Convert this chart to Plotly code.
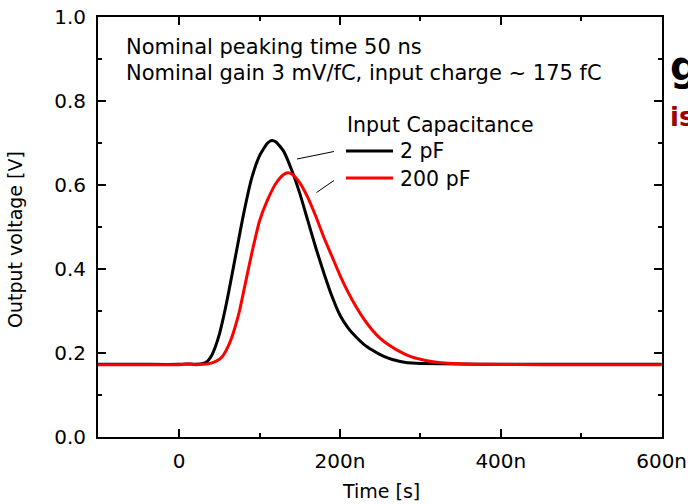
import plotly.graph_objects as go

# time in ns
t_black = [-101, -50, 0, 10, 20, 30, 35, 40, 45, 50, 55, 60, 70, 80, 90, 100, 110, 115, 120,
           130, 140, 150, 160, 170, 180, 190, 200, 210, 220, 230, 240, 250, 260, 270, 280,
           290, 300, 350, 400, 500, 600]
v_black = [0.173, 0.173, 0.173, 0.174, 0.173, 0.175, 0.18, 0.193, 0.215, 0.245, 0.285, 0.33,
           0.43, 0.53, 0.615, 0.67, 0.70, 0.706, 0.703, 0.68, 0.635, 0.58, 0.515, 0.45, 0.39,
           0.335, 0.29, 0.26, 0.238, 0.22, 0.207, 0.196, 0.188, 0.182, 0.178, 0.176, 0.175,
           0.174, 0.173, 0.173, 0.173]

t_red = [-101, -50, 0, 10, 20, 30, 40, 50, 55, 60, 65, 70, 75, 80, 90, 100, 110, 120, 130,
         135, 140, 150, 160, 170, 180, 190, 200, 210, 220, 230, 240, 250, 260, 270, 280, 290,
         300, 310, 320, 340, 380, 450, 600]
v_red = [0.172, 0.172, 0.172, 0.174, 0.172, 0.173, 0.176, 0.185, 0.195, 0.212, 0.235, 0.265,
         0.30, 0.345, 0.435, 0.515, 0.565, 0.603, 0.625, 0.629, 0.626, 0.605, 0.57, 0.525,
         0.475, 0.43, 0.385, 0.345, 0.31, 0.28, 0.255, 0.235, 0.22, 0.208, 0.198, 0.19,
         0.185, 0.181, 0.178, 0.175, 0.173, 0.172, 0.172]

x_tickvals = [0, 200, 400, 600]
x_ticktext = ["0", "200n", "400n", "600n"]
y_tickvals = [0.0, 0.2, 0.4, 0.6, 0.8, 1.0]
y_ticktext = ["0.0", "0.2", "0.4", "0.6", "0.8", "1.0"]

FONT = "DejaVu Sans, Arial, sans-serif"

L, R, T, B = 98, 662, 17, 437


def px(x):
    return (x - L) / (R - L)


def py(y):
    return (B - y) / (B - T)


fig = go.Figure()
fig.add_trace(go.Scatter(x=t_black, y=v_black, mode="lines", name="2 pF",
                         line=dict(color="black", width=3, shape="spline", smoothing=0.6)))
fig.add_trace(go.Scatter(x=t_red, y=v_red, mode="lines", name="200 pF",
                         line=dict(color="#ff0000", width=3, shape="spline", smoothing=0.6)))

fig.update_layout(
    width=688, height=504,
    margin=dict(l=L, r=688 - R, t=T, b=504 - B, pad=0, autoexpand=False),
    paper_bgcolor="white", plot_bgcolor="white",
    showlegend=False,
    font=dict(family=FONT, size=20, color="black"),
)

fig.update_xaxes(
    range=[-101, 600.5], tickvals=x_tickvals, ticktext=x_ticktext,
    showline=True, linecolor="black", linewidth=2, mirror="ticks",
    ticks="inside", ticklen=8, tickwidth=1.5, tickcolor="black",
    showgrid=False, zeroline=False, ticklabelstandoff=5, automargin=False,
    tickfont=dict(size=20, family=FONT),
    minor=dict(ticks="inside", ticklen=4, tickwidth=1.5, tickcolor="black",
               tickvals=[-100, 100, 300, 500], showgrid=False),
)
fig.update_yaxes(
    range=[0, 1], tickvals=y_tickvals, ticktext=y_ticktext,
    showline=True, linecolor="black", linewidth=2, mirror="ticks",
    ticks="inside", ticklen=8, tickwidth=1.5, tickcolor="black",
    showgrid=False, zeroline=False, ticklabelstandoff=6, automargin=False,
    tickfont=dict(size=20, family=FONT),
    minor=dict(ticks="inside", ticklen=4, tickwidth=1.5, tickcolor="black",
               tickvals=[0.1, 0.3, 0.5, 0.7, 0.9], showgrid=False),
)

# Axis titles
fig.add_annotation(xref="paper", yref="paper", x=px(381), y=py(491), xanchor="center",
                   yanchor="middle", showarrow=False, text="Time [s]",
                   font=dict(size=19, family=FONT))
fig.add_annotation(xref="paper", yref="paper", x=px(15), y=py(240), xanchor="center",
                   yanchor="middle", showarrow=False, text="Output voltage [V]", textangle=-90,
                   font=dict(size=19, family=FONT))

# Text block
fig.add_annotation(xref="paper", yref="paper", x=px(124), y=py(47),
                   xanchor="left", yanchor="middle", showarrow=False, align="left",
                   text="Nominal peaking time 50 ns", font=dict(size=21, family=FONT))
fig.add_annotation(xref="paper", yref="paper", x=px(124), y=py(73),
                   xanchor="left", yanchor="middle", showarrow=False, align="left",
                   text="Nominal gain 3 mV/fC, input charge ~ 175 fC", font=dict(size=21, family=FONT))

# Legend (manual)
fig.add_annotation(xref="paper", yref="paper", x=px(345), y=py(125), xanchor="left",
                   yanchor="middle", showarrow=False, text="Input Capacitance",
                   font=dict(size=20.5, family=FONT))
fig.add_annotation(xref="paper", yref="paper", x=px(398), y=py(151), xanchor="left",
                   yanchor="middle", showarrow=False, text="2 pF", font=dict(size=20.5, family=FONT))
fig.add_annotation(xref="paper", yref="paper", x=px(398), y=py(179), xanchor="left",
                   yanchor="middle", showarrow=False, text="200 pF", font=dict(size=20.5, family=FONT))
fig.add_shape(type="line", xref="paper", yref="paper", x0=px(346), x1=px(393), y0=py(151), y1=py(151),
              line=dict(color="black", width=3))
fig.add_shape(type="line", xref="paper", yref="paper", x0=px(346), x1=px(393), y0=py(178), y1=py(178),
              line=dict(color="#ff0000", width=3))
fig.add_shape(type="line", xref="paper", yref="paper", x0=px(297), x1=px(334), y0=py(159), y1=py(151.5),
              line=dict(color="black", width=1))
fig.add_shape(type="line", xref="paper", yref="paper", x0=px(316.5), x1=px(334), y0=py(192.5), y1=py(180.5),
              line=dict(color="black", width=1))

# cropped slide text on the right edge
fig.add_annotation(xref="paper", yref="paper", x=px(668), y=py(66), xanchor="left",
                   yanchor="middle", showarrow=False, text="<b>g</b>",
                   font=dict(size=40, family=FONT, color="black"))
fig.add_annotation(xref="paper", yref="paper", x=px(668), y=py(117), xanchor="left",
                   yanchor="middle", showarrow=False, text="<b>is</b>",
                   font=dict(size=26, family=FONT, color="#a00000"))

fig.write_html("out.html")
